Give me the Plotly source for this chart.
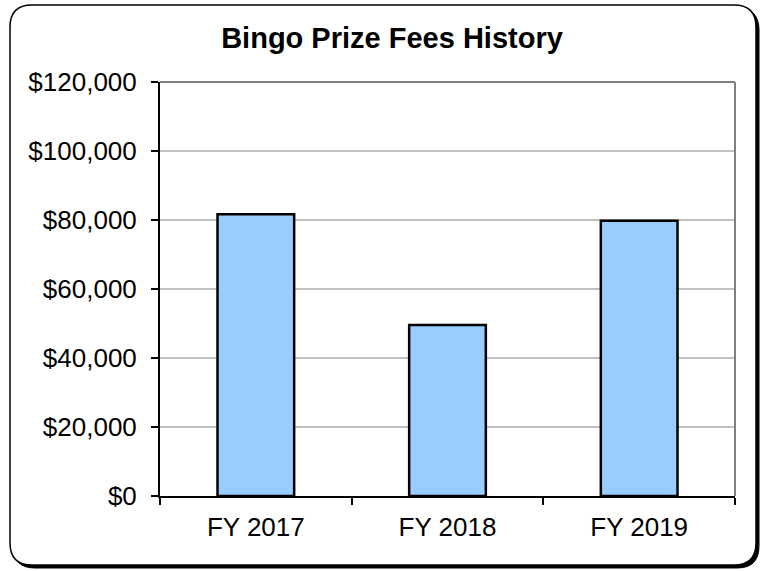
import plotly.graph_objects as go

categories = ["FY 2017", "FY 2018", "FY 2019"]
fees = [81700, 49600, 79800]
y_ticks = [0, 20000, 40000, 60000, 80000, 100000, 120000]

W, H = 760, 571
L, R, T, B = 160, 25, 82, 75
pw, ph = W - L - R, H - T - B

def px(x):
    return (x - L) / pw

def py(y):
    return (H - B - y) / ph

def rounded_rect(x0, y0, x1, y1, r):
    pts = [
        f"M {px(x0 + r)},{py(y0)}",
        f"L {px(x1 - r)},{py(y0)}",
        f"Q {px(x1)},{py(y0)} {px(x1)},{py(y0 + r)}",
        f"L {px(x1)},{py(y1 - r)}",
        f"Q {px(x1)},{py(y1)} {px(x1 - r)},{py(y1)}",
        f"L {px(x0 + r)},{py(y1)}",
        f"Q {px(x0)},{py(y1)} {px(x0)},{py(y1 - r)}",
        f"L {px(x0)},{py(y0 + r)}",
        f"Q {px(x0)},{py(y0)} {px(x0 + r)},{py(y0)}",
        "Z",
    ]
    return " ".join(pts)

FONT = "Liberation Sans, Arial, sans-serif"

fig = go.Figure()
fig.add_trace(go.Bar(
    x=categories, y=fees, width=0.4,
    marker=dict(color="#99CCFF", line=dict(color="black", width=2.5)),
    hoverinfo="x+y",
))

shapes = [
    # shadow
    dict(type="path", xref="paper", yref="paper", layer="below",
         path=rounded_rect(13, 8, 759, 568, 22),
         fillcolor="black", line=dict(color="black", width=1)),
    # chart area
    dict(type="path", xref="paper", yref="paper", layer="below",
         path=rounded_rect(10, 5, 756, 565, 22),
         fillcolor="white", line=dict(color="black", width=1.5)),
    # top and right plot border (gray)
    dict(type="line", xref="paper", yref="paper", x0=0, x1=1, y0=1, y1=1,
         line=dict(color="#808080", width=2)),
    dict(type="line", xref="paper", yref="paper", x0=1, x1=1, y0=0, y1=1,
         line=dict(color="#808080", width=2)),
]

fig.update_layout(
    width=W, height=H, autosize=False,
    margin=dict(l=L, r=R, t=T, b=B, pad=0),
    paper_bgcolor="white",
    plot_bgcolor="rgba(0,0,0,0)",
    font=dict(family=FONT, size=26, color="black"),
    title=dict(text="<b>Bingo Prize Fees History</b>",
               font=dict(family=FONT, size=29, color="black"),
               xref="paper", x=px(392), xanchor="center",
               yref="container", y=1 - 37.5 / H, yanchor="middle"),
    showlegend=False,
    shapes=shapes,
    bargap=0.6,
)
fig.update_xaxes(
    type="category", range=[-0.5, 2.5],
    showline=True, linecolor="black", linewidth=2,
    ticks="outside", tickson="boundaries", ticklen=7, tickwidth=1.5, tickcolor="black",
    showgrid=False, zeroline=False,
    ticklabelstandoff=7,
    tickfont=dict(family=FONT, size=26, color="black"),
)
fig.update_yaxes(
    range=[0, 120000], tickvals=y_ticks, tickformat="$,.0f",
    showline=True, linecolor="black", linewidth=2,
    ticks="outside", ticklen=7, tickwidth=1.5, tickcolor="black",
    showgrid=True, gridcolor="#C0C0C0", gridwidth=1.5,
    zeroline=False,
    ticklabelstandoff=9,
    tickfont=dict(family=FONT, size=26, color="black"),
)

fig.write_html("out.html", config={"displayModeBar": False},
               post_script="document.body.style.margin='0';")
